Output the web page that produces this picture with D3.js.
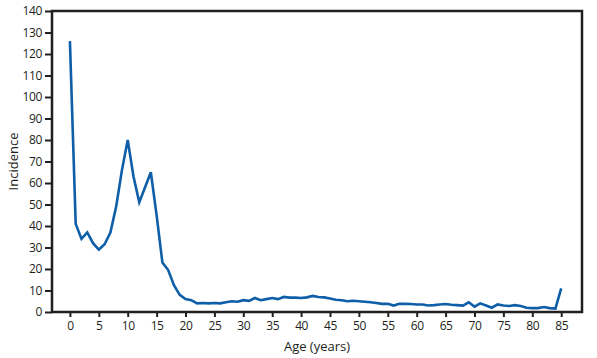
<!DOCTYPE html>
<html><head><meta charset="utf-8">
<script src="https://cdn.jsdelivr.net/npm/d3@7/dist/d3.min.js"></script>
<style>body{margin:0;background:#fff}svg{display:block}text{font-family:"Open Sans",sans-serif;fill:#231f20}</style>
</head><body><svg id="c" width="597" height="358"></svg>
<script>
const ages = d3.range(0, 86);
const incidence = [126,41,34,37,32,29,31.5,37,49,66,80,63,51,58,65,45,23,19.5,12.5,8,
6,5.5,4,4.2,4,4.2,4,4.5,5,4.8,5.5,5.2,6.5,5.5,6,6.5,6,7,6.7,6.7,
6.5,6.8,7.5,7,6.8,6.3,5.7,5.5,5,5.2,5,4.8,4.5,4.2,3.8,3.8,3,3.8,3.8,3.7,
3.5,3.5,3,3.2,3.5,3.7,3.4,3.2,3,4.5,2.5,4,3,2,3.5,3,2.8,3.2,2.8,2,
1.8,1.8,2.3,1.8,1.6,11];
const xTicks = d3.range(0, 90, 5);
const yTicks = d3.range(0, 150, 10);

const svg = d3.select("#c");
const L = 52, R = 582, T = 11, B = 312;
const x = d3.scaleLinear().domain([-3.1, 88.6]).range([L, R]);
const y = d3.scaleLinear().domain([0, 140]).range([B, T]);

const yAx = svg.append("g").attr("transform", `translate(${L},0)`)
  .call(d3.axisLeft(y).tickValues(yTicks).tickSize(7).tickPadding(3).tickSizeOuter(0));
const xAx = svg.append("g").attr("transform", `translate(0,${B})`)
  .call(d3.axisBottom(x).tickValues(xTicks).tickSize(5).tickPadding(4).tickSizeOuter(0));
[yAx, xAx].forEach(g => {
  g.select(".domain").remove();
  g.selectAll(".tick line").attr("stroke", "#231f20").attr("stroke-width", 2);
  g.selectAll(".tick text").style("font-size", "12px").attr("fill", "#231f20")
   .style("font-family", '"Open Sans",sans-serif').style("letter-spacing", "-0.4px");
});

svg.append("rect").attr("x", L).attr("y", T).attr("width", R - L).attr("height", B - T)
  .attr("fill", "none").attr("stroke", "#231f20").attr("stroke-width", 2.5);

const line = d3.line().x((d, i) => x(ages[i])).y(d => y(d));
svg.append("path").datum(incidence).attr("d", line)
  .attr("fill", "none").attr("stroke", "#0e5ea8").attr("stroke-width", 2.6)
  .attr("stroke-linejoin", "miter");

svg.append("text").attr("x", (L + R) / 2).attr("y", 351).attr("text-anchor", "middle")
  .style("font-size", "13px").text("Age (years)");
svg.append("text").attr("transform", `translate(18,${(T + B) / 2}) rotate(-90)`)
  .attr("text-anchor", "middle").style("font-size", "13px").text("Incidence");
</script></body></html>
